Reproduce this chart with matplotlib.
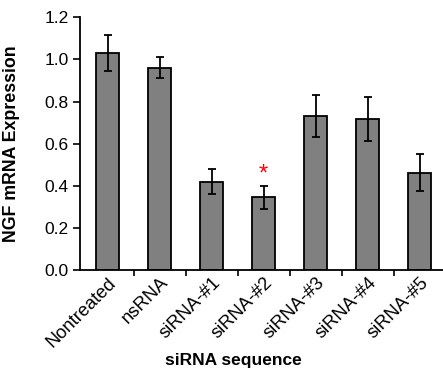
import matplotlib
matplotlib.use("Agg")
import matplotlib.pyplot as plt
import numpy as np

categories = ["Nontreated", "nsRNA", "siRNA-#1", "siRNA-#2", "siRNA-#3", "siRNA-#4", "siRNA-#5"]
values = [1.03, 0.96, 0.42, 0.345, 0.73, 0.717, 0.462]
errors = [0.087, 0.05, 0.058, 0.054, 0.10, 0.105, 0.087]
yticks = [0.0, 0.2, 0.4, 0.6, 0.8, 1.0, 1.2]
star_index = 3
star_y = 0.455

plt.rcParams['font.family'] = ['Liberation Sans', 'DejaVu Sans']

W, H = 443, 374
fig = plt.figure(figsize=(W/100, H/100), dpi=100)
ax = fig.add_axes([80/W, 1-270/H, 1-80/W, (270-17.3)/H])

x = np.arange(len(categories))
ax.bar(x, values, width=0.43, color='#808080', edgecolor='black', linewidth=1.3, zorder=2)
ax.errorbar(x, values, yerr=errors, fmt='none', ecolor='black', elinewidth=1.3,
            capsize=3, capthick=1.3, zorder=3)
ax.text(x[star_index], star_y, '*', color='red', ha='center', va='center', fontsize=17)

ax.set_xlim(-0.53, 6.45)
ax.set_ylim(0, 1.2)
ax.set_yticks(yticks)
ax.set_yticklabels([f"{v:.1f}" for v in yticks], fontsize=12.5)
ax.set_xticks(x)
ax.set_xticklabels(categories, rotation=45, ha='right', rotation_mode='anchor', fontsize=13.2)
ax.tick_params(axis='x', length=0, pad=3)
ax.set_xticks(np.arange(0.5, 6.5, 1.0), minor=True)
ax.tick_params(axis='x', which='minor', length=4, width=1.2, direction='out')
ax.tick_params(axis='y', length=5, width=1.2, direction='out', pad=3)
for s in ['top', 'right']:
    ax.spines[s].set_visible(False)
for s in ['left', 'bottom']:
    ax.spines[s].set_linewidth(1.3)

ax.set_ylabel("NGF mRNA Expression", fontsize=12.8, fontweight='bold')
ax.yaxis.set_label_coords((20-80)/(W-80), 0.5)
ax.set_xlabel("siRNA sequence", fontsize=12.5, fontweight='bold')
ax.xaxis.set_label_coords((233-80)/(W-80), -(360-270)/(270-17.3))
ax.xaxis.label.set_va('center')

fig.savefig("out.png", dpi=100)
